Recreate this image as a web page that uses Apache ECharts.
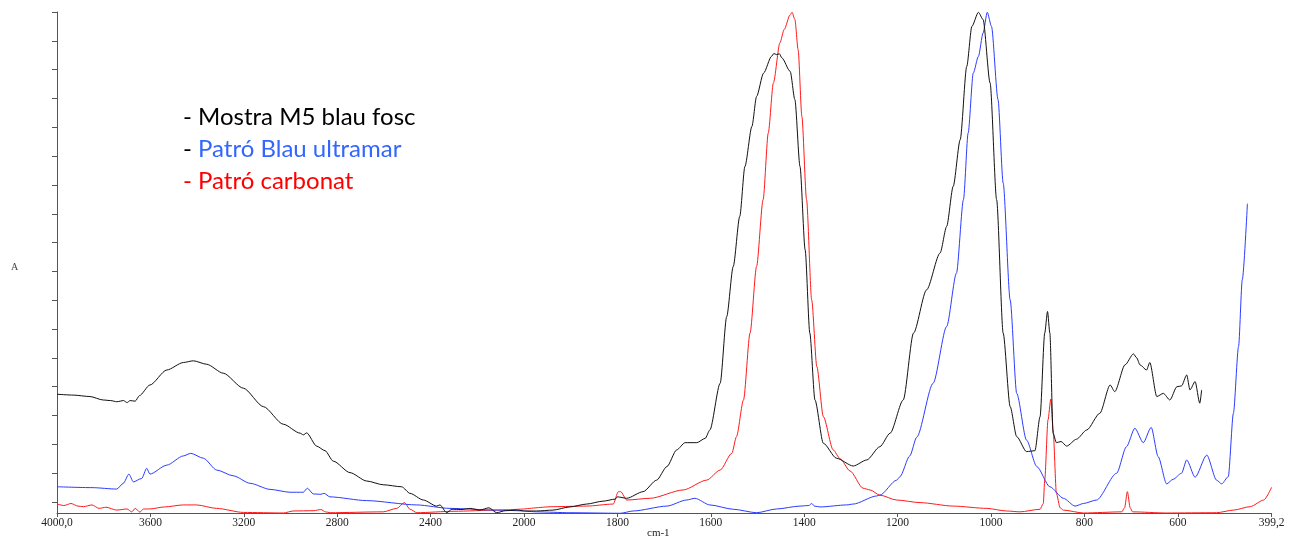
<!DOCTYPE html>
<html><head><meta charset="utf-8">
<script src="https://cdn.jsdelivr.net/npm/echarts@6/dist/echarts.min.js"></script>
<style>html,body{margin:0;padding:0;background:#fff}#c{width:1290px;height:538px}</style>
</head><body><div id="c"></div>
<script>
// Wavenumber (cm-1), absorbance
const mostraM5 = [
  [4000,0.374],[3930,0.371],[3859,0.366],[3802,0.354],[3770,0.352],[3744,0.348],[3715,0.352],[3700,0.345],[3687,0.352],[3665,0.350],[3647,0.369],
  [3602,0.406],[3530,0.458],[3459,0.484],[3416,0.490],[3359,0.478],[3288,0.447],[3202,0.395],[3116,0.331],[3031,0.270],[2959,0.239],[2945,0.233],
  [2931,0.240],[2888,0.194],[2852,0.178],[2817,0.142],[2745,0.102],[2674,0.073],[2603,0.060],[2524,0.053],[2488,0.030],[2431,0.007],[2374,-0.014],
  [2360,-0.010],[2331,-0.037],[2309,-0.025],[2270,-0.026],[2230,-0.022],[2190,-0.028],[2150,-0.020],[2117,-0.037],[2080,-0.030],[2031,-0.028],[2000,-0.031],
  [1973,-0.031],[1938,-0.028],[1902,-0.017],[1866,-0.007],[1831,0.003],[1805,0.010],[1800,0.018],[1780,0.013],[1745,0.036],[1716,0.076],[1694,0.123],
  [1673,0.181],[1655,0.206],[1630,0.206],[1612,0.221],[1602,0.250],[1580,0.412],[1566,0.643],[1552,0.817],[1538,0.991],[1527,1.164],[1512,1.303],
  [1502,1.407],[1487,1.488],[1470,1.546],[1465,1.556],[1459,1.552],[1453,1.555],[1448,1.541],[1430,1.494],[1420,1.396],[1409,1.164],[1398,0.875],
  [1388,0.586],[1377,0.354],[1359,0.204],[1331,0.152],[1295,0.125],[1266,0.146],[1238,0.192],[1216,0.239],[1188,0.354],[1166,0.586],[1138,0.736],
  [1109,0.864],[1095,0.956],[1081,1.095],[1066,1.257],[1052,1.511],[1041,1.650],[1027,1.699],[1017,1.674],[1002,1.454],[988,1.049],[974,0.586],
  [959,0.331],[945,0.227],[924,0.175],[906,0.178],[895,0.296],[885,0.586],[879,0.661],[874,0.586],[867,0.238],[860,0.206],[850,0.210],[838,0.194],
  [817,0.218],[795,0.250],[767,0.308],[745,0.406],[735,0.383],[713,0.476],[695,0.514],[688,0.500],[681,0.476],[667,0.458],[660,0.484],[645,0.366],
  [631,0.377],[617,0.354],[602,0.400],[592,0.403],[581,0.441],[574,0.389],[563,0.418],[553,0.343],[549,0.389]
];
const patroUltramar = [
  [4000,0.053],[3850,0.050],[3744,0.045],[3716,0.065],[3692,0.097],[3673,0.070],[3637,0.082],[3616,0.117],[3602,0.097],[3530,0.128],[3459,0.160],
  [3427,0.169],[3373,0.152],[3316,0.111],[3245,0.091],[3173,0.065],[3088,0.044],[3002,0.034],[2945,0.034],[2928,0.048],[2902,0.028],[2870,0.027],
  [2856,0.030],[2831,0.018],[2674,0.005],[2459,-0.010],[2317,-0.022],[2117,-0.028],[2000,-0.031],[1973,-0.034],[1902,-0.037],[1794,-0.039],
  [1766,-0.031],[1694,-0.014],[1652,0.007],[1634,0.013],[1602,-0.010],[1552,-0.025],[1502,-0.037],[1459,-0.024],[1409,-0.014],[1390,-0.012],
  [1384,-0.005],[1378,-0.014],[1366,-0.017],[1309,-0.010],[1295,-0.007],[1245,0.021],[1238,0.024],[1202,0.076],[1195,0.088],[1174,0.160],
  [1159,0.225],[1124,0.412],[1095,0.609],[1074,0.794],[1059,1.049],[1049,1.280],[1038,1.488],[1027,1.546],[1017,1.627],[1008,1.699],[999,1.650],
  [985,1.396],[974,1.107],[959,0.701],[945,0.377],[924,0.215],[902,0.123],[874,0.053],[845,0.013],[820,-0.014],[802,-0.005],[774,0.007],
  [731,0.100],[710,0.192],[692,0.256],[674,0.206],[657,0.259],[642,0.157],[624,0.063],[610,0.079],[592,0.100],[581,0.146],[563,0.086],
  [538,0.163],[517,0.076],[506,0.063],[492,0.088],[481,0.308],[470,0.539],[462,0.771],[451,1.035]
];
const patroCarbonat = [
  [4000,-0.007],[3970,-0.012],[3940,-0.005],[3910,-0.014],[3887,-0.016],[3850,-0.010],[3820,-0.022],[3790,-0.018],[3744,-0.028],[3700,-0.024],
  [3680,-0.034],[3665,-0.022],[3645,-0.035],[3630,-0.024],[3602,-0.024],[3540,-0.017],[3459,-0.010],[3402,-0.010],[3316,-0.022],[3202,-0.036],
  [3031,-0.038],[2988,-0.031],[2900,-0.030],[2870,-0.026],[2850,-0.034],[2831,-0.037],[2603,-0.034],[2545,-0.022],[2512,-0.002],[2488,-0.025],
  [2459,-0.037],[2300,-0.032],[2117,-0.028],[2000,-0.024],[1937,-0.016],[1866,-0.014],[1809,-0.007],[1798,0.036],[1793,0.036],[1780,0.007],
  [1730,0.013],[1659,0.042],[1609,0.076],[1580,0.111],[1555,0.169],[1545,0.227],[1530,0.354],[1516,0.586],[1502,0.817],[1488,1.049],[1477,1.280],
  [1466,1.454],[1452,1.593],[1443,1.639],[1430,1.691],[1426,1.699],[1420,1.674],[1413,1.569],[1405,1.338],[1395,1.049],[1384,0.701],[1373,0.470],
  [1359,0.296],[1338,0.181],[1323,0.150],[1302,0.108],[1274,0.048],[1259,0.042],[1238,0.024],[1202,0.007],[1152,-0.002],[1081,-0.014],
  [1009,-0.022],[967,-0.031],[938,-0.034],[895,-0.025],[888,-0.005],[885,0.076],[878,0.285],[872,0.357],[867,0.250],[860,0.030],[852,-0.020],
  [845,-0.028],[802,-0.038],[720,-0.034],[714,-0.020],[708,0.036],[702,-0.020],[697,-0.034],[624,-0.038],[517,-0.037],[481,-0.028],[445,-0.016],
  [416,0.007],[399.2,0.051]
];
const seriesNames = ['Mostra M5 blau fosc','Patró Blau ultramar','Patró carbonat'];
const seriesColors = ['#111111','#2b3cff','#ff1a1a'];
const xTicksHigh = [2000,2400,2800,3200,3600,4000];
const xTicksLow = [399.2,600,800,1000,1200,1400,1600,1800];
const yTicks = [0,0.1,0.2,0.3,0.4,0.5,0.6,0.7,0.8,0.9,1.0,1.1,1.2,1.3,1.4,1.5,1.6,1.7];

const chart = echarts.init(document.getElementById('c'), null, {renderer:'canvas'});
const fmt = v => (v === 4000 ? '4000,0' : v === 399.2 ? '399,2' : String(v));
const axisCol = '#555';
const labelStyle = {fontFamily:'Liberation Serif', fontSize:11.5, color:'#222', margin:4, formatter: fmt};
const allData = [mostraM5, patroUltramar, patroCarbonat];
const series = [];
allData.forEach((d, i) => {
  [0,1].forEach(g => {
    series.push({
      name: seriesNames[i], type:'line', xAxisIndex:g, yAxisIndex:g,
      data: d.filter(p => g === 0 ? p[0] >= 2000 : p[0] <= 2000),
      showSymbol:false, symbol:'none', smooth:0.25, smoothMonotone:'x',
      lineStyle:{color:seriesColors[i], width:1}, itemStyle:{color:seriesColors[i]},
      silent:true, z: 3 - i
    });
  });
});
chart.setOption({
  animation:false,
  backgroundColor:'#fff',
  grid:[
    {left:57, top:12, width:467, height:501},
    {left:524, top:12, width:747.6, height:501}
  ],
  xAxis:[
    {gridIndex:0, type:'value', min:2000, max:4000, inverse:true, interval:400,
     axisLine:{onZero:false, lineStyle:{color:axisCol}}, axisTick:{length:4, customValues:xTicksHigh, lineStyle:{color:axisCol}},
     axisLabel:Object.assign({}, labelStyle, {customValues:xTicksHigh}), splitLine:{show:false}},
    {gridIndex:1, type:'value', min:399.2, max:2000, inverse:true,
     axisLine:{onZero:false, lineStyle:{color:axisCol}},
     axisTick:{length:4, customValues:xTicksLow, lineStyle:{color:axisCol}},
     axisLabel:Object.assign({}, labelStyle, {customValues:xTicksLow}), splitLine:{show:false}}
  ],
  yAxis:[
    {gridIndex:0, type:'value', min:-0.038, max:1.70,
     axisLine:{show:true, onZero:false, lineStyle:{color:axisCol}},
     axisTick:{show:true, length:5, customValues:yTicks, lineStyle:{color:axisCol}},
     axisLabel:{show:false}, splitLine:{show:false}},
    {gridIndex:1, type:'value', min:-0.038, max:1.70, show:false, splitLine:{show:false}}
  ],
  series: series,
  graphic:[
    {type:'text', left:183, top:105, style:{text:'- Mostra M5 blau fosc', font:'24px Lato', fill:'#000'}},
    {type:'text', left:183, top:137, style:{text:'{k|- }{b|Patró Blau ultramar}', font:'24px Lato',
      rich:{k:{fill:'#000', font:'24px Lato'}, b:{fill:'#3366ff', font:'24px Lato'}}}},
    {type:'text', left:183, top:169, style:{text:'- Patró carbonat', font:'24px Lato', fill:'#ff0000'}},
    {type:'text', left:647, top:528, style:{text:'cm-1', font:'11px "Liberation Serif"', fill:'#222'}},
    {type:'text', left:11, top:262, style:{text:'A', font:'10px "Liberation Serif"', fill:'#444'}}
  ]
});
</script></body></html>
